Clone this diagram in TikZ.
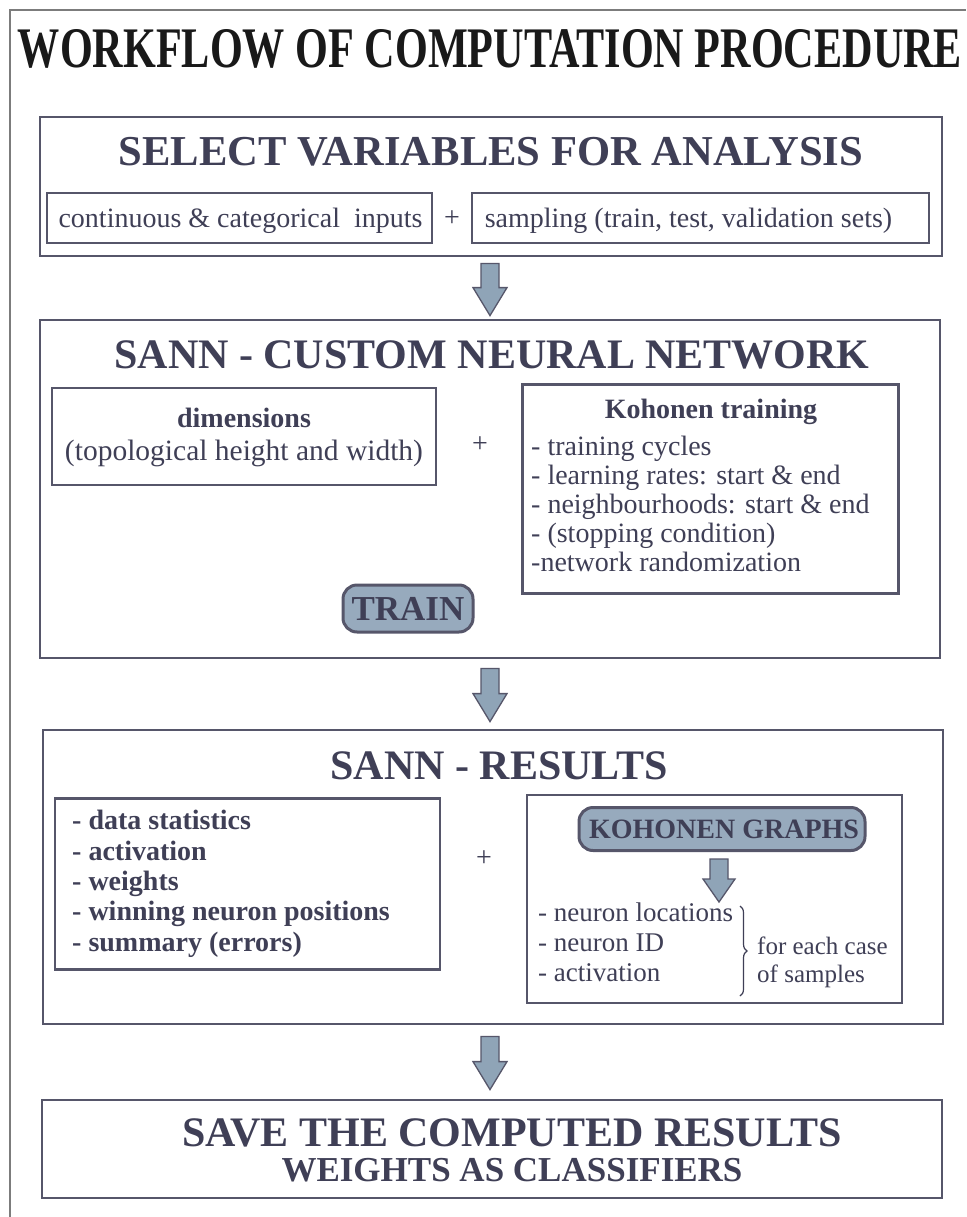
\documentclass[tikz,border=0pt]{standalone}
\usepackage{fontspec}
\usepackage{graphicx}
\setmainfont{Liberation Serif}
\usetikzlibrary{calc,decorations.pathreplacing}

\definecolor{ink}{HTML}{3F3F56}
\definecolor{edge}{HTML}{56566A}
\definecolor{steel}{HTML}{8FA4B7}
\definecolor{pillfill}{HTML}{97AABD}
\definecolor{rule}{HTML}{7C7C7C}

% block arrow from #1 (top of shaft) to #2 (tip); #3 shaft half width,
% #4 head half width, #5 head length
\newcommand\blockarrow[5]{%
  \draw[flowarrow] let \p1=(#1), \p2=(#2) in
    (\x1-#3,\y1) -- (\x1+#3,\y1) -- (\x1+#3,\y2+#5) -- (\x1+#4,\y2+#5)
    -- (\x1,\y2) -- (\x1-#4,\y2+#5) -- (\x1-#3,\y2+#5) -- cycle;}

\begin{document}
\begin{tikzpicture}[x=1pt,y=-1pt,
  panel/.style={draw=edge,line width=2.8pt,inner sep=0pt},
  subpanel/.style={draw=edge,line width=2.4pt,inner sep=0pt},
  pill/.style={draw=edge,line width=3pt,fill=pillfill,rounded corners=14pt,inner sep=0pt},
  txt/.style={text=ink,inner sep=0pt},
  heading/.style={txt,font=\bfseries\fontsize{42}{42}\selectfont},
  body/.style={txt,font=\fontsize{28}{32}\selectfont},
  bbody/.style={txt,font=\bfseries\fontsize{28}{32}\selectfont},
  flowarrow/.style={draw=edge,line width=1.3pt,fill=steel,line join=miter}]

\useasboundingbox (0,0) rectangle (966,1217);
\fill[white] (0,0) rectangle (966,1217);

% outer page rule (open to the right and bottom)
\draw[rule,line width=1.4pt] (10,1217) -- (10,10) -- (966,10);

% main title
\node[inner sep=0pt,text=black!90] (title) at (490,49)
  {\resizebox{944pt}{38pt}{\bfseries WORKFLOW OF COMPUTATION PROCEDURE}};

% ---------- stage 1 ----------
\node[panel,minimum width=902pt,minimum height=139pt] (sel) at (491,186.5) {};
\node[heading,font=\bfseries\fontsize{42.6}{42}\selectfont] (selT) at (491,152) {SELECT VARIABLES FOR ANALYSIS};
\node[subpanel,minimum width=385pt,minimum height=50pt] (inp) at (239.5,218) {};
\node[body] (inpT) at ($(inp.center)+(1,3)$) {continuous \& categorical\ \ inputs};
\node[body] (plus1) at (452,219) {+};
\node[subpanel,minimum width=457pt,minimum height=50pt] (smp) at (700.5,218) {};
\node[body] (smpT) at ($(smp.center)+(-12,3)$) {sampling (train, test, validation sets)};

% ---------- stage 2 ----------
\node[panel,minimum width=900pt,minimum height=338pt] (sann) at (490,489) {};
\node[heading] (sannT) at (492,355) {SANN - CUSTOM NEURAL NETWORK};
\node[subpanel,minimum width=384pt,minimum height=97pt] (dim) at (244,436.5) {};
\node[bbody,anchor=mid] (dimA) at (244,425) {dimensions};
\node[body,anchor=mid,font=\fontsize{29.5}{32}\selectfont] (dimB) at (244,458) {(topological height and width)};
\node[body] (plus2) at (480,445) {+};
\node[subpanel,minimum width=376pt,minimum height=209pt] (koh) at (710.5,489) {};
\node[bbody,anchor=mid] (kohT) at (711,416) {Kohonen training};
\foreach \i/\t/\yy in {1/{- training cycles}/453,
                       2/{- learning rates: start \& end}/482,
                       3/{- neighbourhoods: start \& end}/511,
                       4/{- (stopping condition)}/540,
                       5/{-network randomization}/569}
  \node[body,anchor=mid west] (kohL\i) at (531,\yy) {\t};
\node[pill,minimum width=130pt,minimum height=47pt] (train) at (408,608.5) {};
\node[txt,font=\bfseries\fontsize{35}{35}\selectfont] (trainT) at (train.center) {TRAIN};

% ---------- stage 3 ----------
\node[panel,minimum width=900pt,minimum height=294pt] (res) at (493,877) {};
\node[heading] (resT) at (499,766) {SANN - RESULTS};
\node[subpanel,minimum width=385pt,minimum height=171pt] (out) at (247.5,884) {};
\foreach \i/\t/\yy in {1/{- data statistics}/827,
                       2/{- activation}/858,
                       3/{- weights}/888,
                       4/{- winning neuron positions}/918,
                       5/{- summary (errors)}/949}
  \node[bbody,anchor=mid west] (outL\i) at (72,\yy) {\t};
\node[body] (plus3) at (484,859) {+};
\node[subpanel,minimum width=375pt,minimum height=208pt] (gra) at (714.5,899) {};
\node[pill,minimum width=286pt,minimum height=43pt] (kg) at (722,829) {};
\node[txt,font=\bfseries\fontsize{28}{28}\selectfont] (kgT) at ($(kg.center)+(2,0)$) {KOHONEN GRAPHS};
\foreach \i/\t/\yy in {1/{- neuron locations}/919,
                       2/{- neuron ID}/949,
                       3/{- activation}/979}
  \node[body,anchor=mid west,font=\fontsize{27}{30}\selectfont] (grL\i) at (538,\yy) {\t};
\coordinate (brTop) at (740,906);
\coordinate (brBot) at (740,996);
\draw[ink,line width=1.2pt,decorate,decoration={brace,amplitude=7pt}] (brTop) -- (brBot);
\node[body,anchor=mid west,font=\fontsize{25}{28}\selectfont] (each1) at (757,952) {for each case};
\node[body,anchor=mid west,font=\fontsize{25}{28}\selectfont] (each2) at (757,980) {of samples};

% ---------- stage 4 ----------
\node[panel,minimum width=900pt,minimum height=98pt] (save) at (492,1149) {};
\node[heading] (saveA) at (512,1133) {SAVE THE COMPUTED RESULTS};
\node[heading,font=\bfseries\fontsize{35}{35}\selectfont] (saveB) at (512,1170) {WEIGHTS AS CLASSIFIERS};

% ---------- flow arrows ----------
\blockarrow{$(sel.south)+(-1,6)$}{$(sel.south|-sann.north)+(-1,-3)$}{9}{17}{28}
\blockarrow{$(sann.south)+(0,9)$}{$(sann.south|-res.north)+(0,-7)$}{9}{17}{28}
\blockarrow{$(res.south)+(-3,11)$}{$(res.south|-save.north)+(-3,-9)$}{9}{17}{28}
\blockarrow{$(kg.south)+(-3,7)$}{$(kg.south)+(-3,50)$}{9}{16}{23}
\end{tikzpicture}
\end{document}
